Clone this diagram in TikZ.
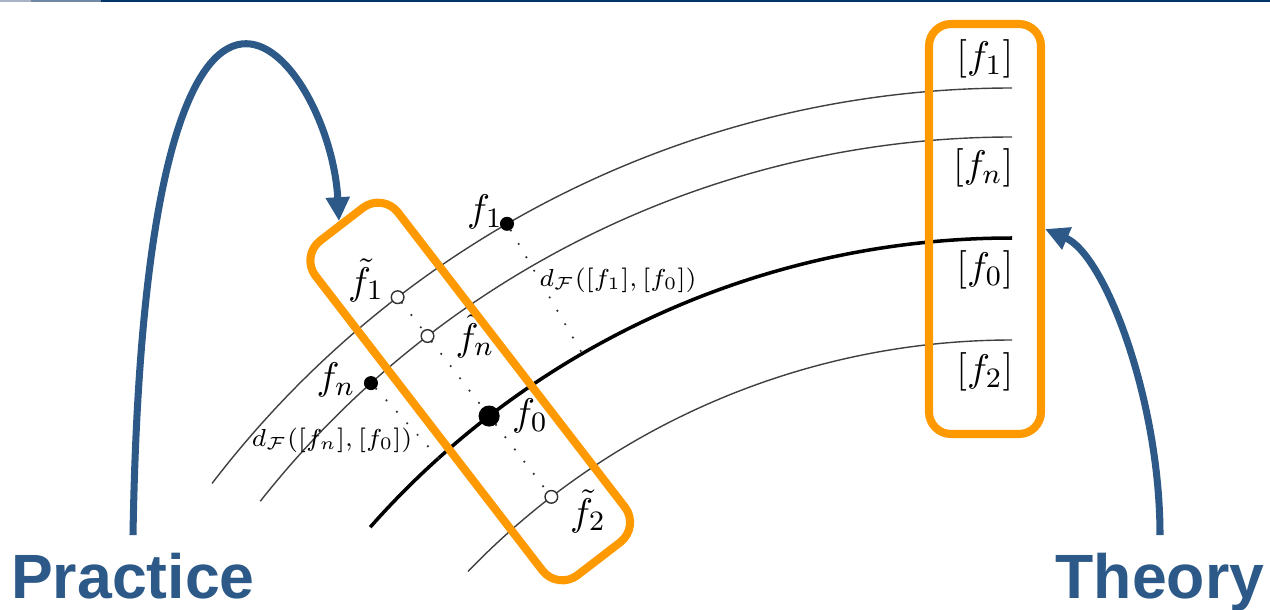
\documentclass[tikz,border=0pt]{standalone}
\usepackage{fontspec}
\newfontfamily\headfont{Liberation Sans}
\usetikzlibrary{arrows.meta}

\definecolor{slateblue}{RGB}{44,89,135}
\definecolor{hiorange}{RGB}{255,153,0}
\definecolor{barlight}{RGB}{168,180,196}
\definecolor{barmid}{RGB}{112,136,165}
\definecolor{bardark}{RGB}{0,51,102}

\begin{document}
\begin{tikzpicture}[
    orbit/.style={draw=black!75, line width=0.4pt},
    mainorbit/.style={draw=black, line width=1pt},
    pt/.style={circle, fill=black, inner sep=0pt, minimum size=4pt},
    bigpt/.style={circle, fill=black, inner sep=0pt, minimum size=6pt},
    est/.style={circle, draw=black!80, fill=white, line width=0.4pt, inner sep=0pt, minimum size=3.6pt},
    lbl/.style={inner sep=0pt, font=\fontsize{11}{13}\selectfont},
    dist/.style={inner sep=0pt, font=\fontsize{7.2}{9}\selectfont},
    gap/.style={draw=black!80, line width=0.7pt, line cap=round, dash pattern=on 0pt off 4.4pt},
    hilite/.style={draw=hiorange, line width=2.3pt, rectangle, rounded corners=0.22cm},
    link/.style={draw=slateblue, line width=2pt, -{Triangle[width=6.5pt,length=6.8pt]}},
    word/.style={text=slateblue, font=\headfont\bfseries\fontsize{17.8}{20}\selectfont, inner sep=0pt, outer sep=5pt}
]

    \useasboundingbox (0,0) rectangle (12.70,-6.09);

    % header bar
    \fill[barlight] (0,0) rectangle (0.31,-0.02);
    \fill[barmid] (0.31,0) rectangle (1.01,-0.02);
    \fill[bardark] (1.01,0) rectangle (12.70,-0.02);

    \coordinate (O) at (10.12,-10.95);

    % equivalence classes
    \draw[orbit] ([shift={(142.6:10.07)}]O) arc[start angle=142.6, end angle=90, radius=10.07];
    \draw[orbit] ([shift={(141.7:9.58)}]O) arc[start angle=141.7, end angle=90, radius=9.58];
    \draw[mainorbit] ([shift={(138.5:8.57)}]O) arc[start angle=138.5, end angle=90, radius=8.57];
    \draw[orbit] ([shift={(136.1:7.55)}]O) arc[start angle=136.1, end angle=90, radius=7.55];

    \coordinate (f1foot) at ([shift={(120.1:8.57)}]O);
    \coordinate (fnfoot) at ([shift={(132.0:8.57)}]O);

    \node[pt] (f1) at ([shift={(120.1:10.07)}]O) {};
    \node[pt] (fn) at ([shift={(132.0:9.58)}]O) {};
    \node[bigpt] (f0) at ([shift={(127.6:8.57)}]O) {};
    \node[est] (ft1) at ([shift={(127.6:10.07)}]O) {};
    \node[est] (ftn) at ([shift={(127.6:9.58)}]O) {};
    \node[est] (ft2) at ([shift={(127.6:7.55)}]O) {};

    \draw[gap] (f1) -- (f1foot);
    \draw[gap] (fn) -- (fnfoot);
    \draw[gap] (ft1) -- (ftn) -- (f0) -- (ft2);

    \node[lbl] (f1lab) at (4.85,-2.12) {$f_1$};
    \node[lbl] (fnlab) at (3.36,-3.80) {$f_n$};
    \node[lbl] (f0lab) at (5.30,-4.16) {$f_0$};
    \node[lbl] (ft1lab) at (3.66,-2.80) {$\tilde{f}_1$};
    \node[lbl] (ftnlab) at (4.75,-3.36) {$\tilde{f}_n$};
    \node[lbl] (ft2lab) at (5.88,-5.11) {$\tilde{f}_2$};
    \node[dist] (d1lab) at (6.18,-2.80) {$d_{\mathcal{F}}([f_1],[f_0])$};
    \node[dist] (dnlab) at (3.32,-4.40) {$d_{\mathcal{F}}([f_n],[f_0])$};

    \node[lbl, anchor=east] (c1) at (10.14,-0.59) {$[f_1]$};
    \node[lbl, anchor=east] (cn) at (10.14,-1.68) {$[f_n]$};
    \node[lbl, anchor=east] (c0) at (10.14,-2.70) {$[f_0]$};
    \node[lbl, anchor=east] (c2) at (10.14,-3.72) {$[f_2]$};

    % highlight boxes
    \node[hilite, rotate=-52.4, minimum width=4.22cm, minimum height=1.04cm, rounded corners=0.25cm] (practicebox) at ([shift={(127.6:8.88)}]O) {};
    \node[hilite, minimum width=1.12cm, minimum height=4.10cm] (theorybox) at (9.85,-2.29) {};

    \node[word, anchor=base] (practice) at (1.33,-5.98) {Practice};
    \node[word, anchor=base] (theory) at (11.60,-5.98) {Theory};

    \draw[link] (practice.north) .. controls (1.45,1.80) and (3.30,-0.55) .. (practicebox.west);
    \draw[link] (theory.north) .. controls (11.60,-4.00) and (11.05,-2.55) .. (theorybox.east);
\end{tikzpicture}
\end{document}
